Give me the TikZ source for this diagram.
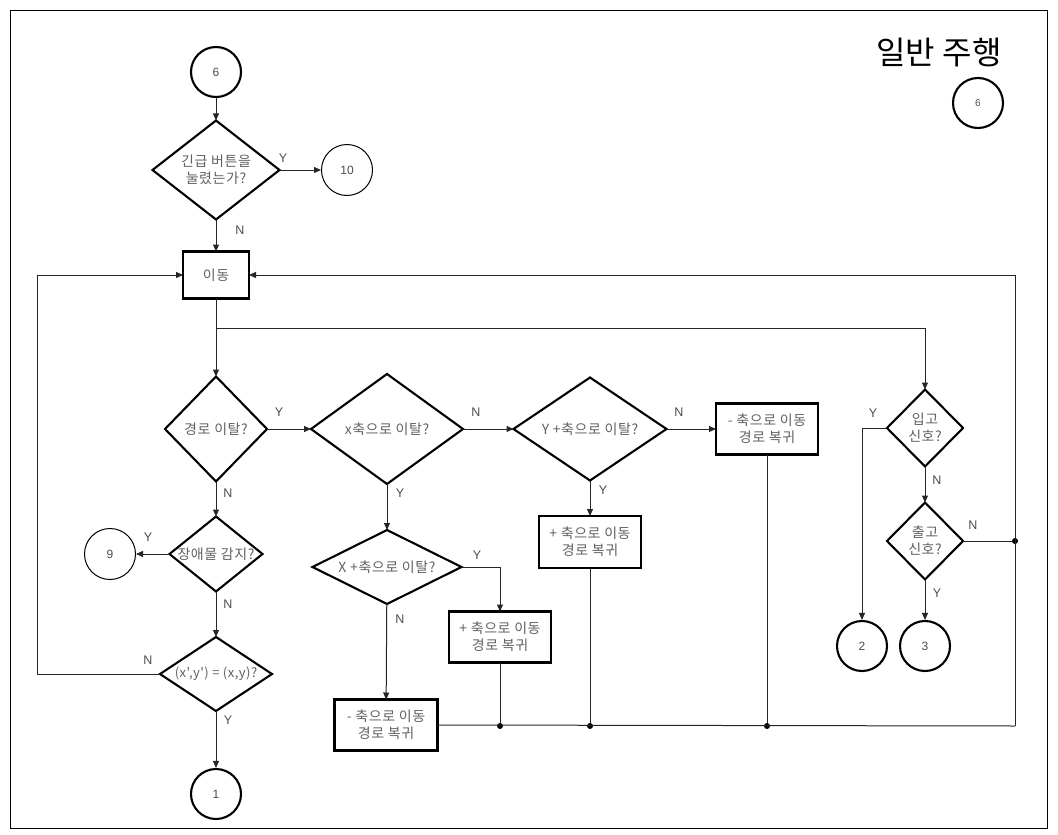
\documentclass[tikz,border=0pt]{standalone}
\usepackage{fontspec}
\setmainfont{Liberation Sans}
\newfontfamily\kr[LetterSpace=4]{Noto Sans CJK KR}
\newfontfamily\krtitle{Noto Sans CJK KR}
\usetikzlibrary{shapes.geometric,arrows.meta}
\begin{document}
\begin{tikzpicture}[x=1pt,y=-1pt,
  conn/.style={line width=1pt,draw=black!85},
  arr/.style={conn,-{Triangle[length=7pt,width=6pt]}},
  lbl/.style={font=\kr\fontsize{14}{17}\selectfont,text=black!62,align=center},
  dec/.style={diamond,draw,line width=2.1pt,inner sep=0pt,outer sep=0pt},
  stepbox/.style={rectangle,draw,line width=2.1pt,inner sep=0pt,outer sep=0pt,
     minimum width=102pt,minimum height=51pt,align=center,
     font=\kr\fontsize{14}{17}\selectfont,text=black!62},
  thickc/.style={circle,draw,line width=2.1pt,minimum size=50pt,inner sep=0pt,
     font=\fontsize{12}{14}\selectfont,text=black!70},
  thinc/.style={circle,draw,line width=1pt,minimum size=51pt,inner sep=0pt,
     font=\fontsize{12}{14}\selectfont,text=black!70},
  yn/.style={font=\fontsize{12.5}{14}\selectfont,text=black!70,inner sep=0pt},
  dot/.style={circle,fill=black,minimum size=6pt,inner sep=0pt}]
\useasboundingbox (0,0) rectangle (1058,835);
\draw[line width=1pt] (10,10) rectangle (1047,828);

% title
\node[font=\krtitle\fontsize{32}{34}\selectfont] (title) at (939,52) {일반 주행};
\node[thickc,minimum size=50pt,font=\fontsize{10}{12}\selectfont] (c6s) at (978,103) {6};

% nodes
\node[thickc] (c6) at (216,72) {6};
\node[dec,minimum width=127pt,minimum height=99pt,label={[lbl]center:긴급 버튼을\\눌렸는가?}] (d1) at (216,170) {};
\node[thinc] (c10) at (347,170) {10};
\node[stepbox,minimum width=66pt,minimum height=47pt] (b1) at (216,275) {이동};
\node[dec,minimum width=102pt,minimum height=105pt,label={[lbl]center:경로 이탈?}] (d2) at (216,429) {};
\node[dec,minimum width=152pt,minimum height=110pt,label={[lbl]center:x축으로 이탈?}] (d3) at (387,429) {};
\node[dec,minimum width=153pt,minimum height=103pt,label={[lbl]center:Y +축으로 이탈?}] (d4) at (590,429) {};
\node[stepbox] (b2) at (767,429) {- 축으로 이동\\경로 복귀};
\node[stepbox,minimum height=52pt] (b3) at (590,542) {+ 축으로 이동\\경로 복귀};
\node[dec,minimum width=149pt,minimum height=74pt,label={[lbl]center:X +축으로 이탈?}] (d5) at (387,567) {};
\node[stepbox] (b4) at (500,637) {+ 축으로 이동\\경로 복귀};
\node[stepbox,minimum width=103pt] (b5) at (386,725) {- 축으로 이동\\경로 복귀};
\node[dec,minimum width=93pt,minimum height=75pt,label={[lbl]center:장애물 감지?}] (d6) at (216,554) {};
\node[thinc] (c9) at (110,554) {9};
\node[dec,minimum width=112pt,minimum height=74pt,label={[lbl,font=\kr\fontsize{13}{16}\selectfont]center:(x',y') = (x,y)?}] (d7) at (216,674) {};
\node[thickc] (c1) at (216,794) {1};
\node[dec,minimum width=76pt,minimum height=77pt,label={[lbl]center:입고\\신호?}] (d8) at (925,428) {};
\node[dec,minimum width=76pt,minimum height=77pt,label={[lbl]center:출고\\신호?}] (d9) at (925,541) {};
\node[thickc] (c2) at (862,646) {2};
\node[thickc] (c3) at (925,646) {3};

% junctions
\coordinate (j0) at (216,328);
\coordinate (rb) at (1015,726);
\coordinate (rt) at (1015,275);
\node[dot] (p1) at (500,726) {};
\node[dot] (p2) at (590,726) {};
\node[dot] (p3) at (767,726) {};
\node[dot] (p4) at (1015,541) {};

% connectors
\draw[arr] (c6) -- (d1);
\draw[arr] (d1) -- (c10);
\draw[arr] (d1) -- (b1);
\draw[arr] (b1) -- (d2);
\draw[arr] (j0) -| (d8.north);
\draw[arr] (d2) -- (d3);
\draw[arr] (d3) -- (d4);
\draw[arr] (d4) -- (b2);
\draw[arr] (d4) -- (b3);
\draw[arr] (d3) -- (d5);
\draw[arr] (d5.east) -| (b4.north);
\draw[arr] (d5) -- (b5);
\draw[arr] (d2) -- (d6);
\draw[arr] (d6) -- (c9);
\draw[arr] (d6) -- (d7);
\draw[arr] (d7) -- (c1);
\draw[arr] (d7.west) -- (37,674) |- (b1.west);
\draw[conn] (b5.east) -- (rb);
\draw[arr] (rb) -- (rt) -- (b1.east);
\draw[conn] (b4.south) -- (p1);
\draw[conn] (b3.south) -- (p2);
\draw[conn] (b2.south) -- (p3);
\draw[conn] (d9.east) -- (p4);
\draw[arr] (d8.west) -| (c2.north);
\draw[arr] (d8) -- (d9);
\draw[arr] (d9) -- (c3);

% Y/N labels
\node[yn] at (283,158) {Y};
\node[yn] at (240,230) {N};
\node[yn] at (279,412) {Y};
\node[yn] at (228,493) {N};
\node[yn] at (476,412) {N};
\node[yn] at (400,493) {Y};
\node[yn] at (679,412) {N};
\node[yn] at (603,490) {Y};
\node[yn] at (477,555) {Y};
\node[yn] at (400,619) {N};
\node[yn] at (148,537) {Y};
\node[yn] at (228,604) {N};
\node[yn] at (148,660) {N};
\node[yn] at (228,720) {Y};
\node[yn] at (873,413) {Y};
\node[yn] at (937,480) {N};
\node[yn] at (973,525) {N};
\node[yn] at (937,593) {Y};
\end{tikzpicture}
\end{document}
